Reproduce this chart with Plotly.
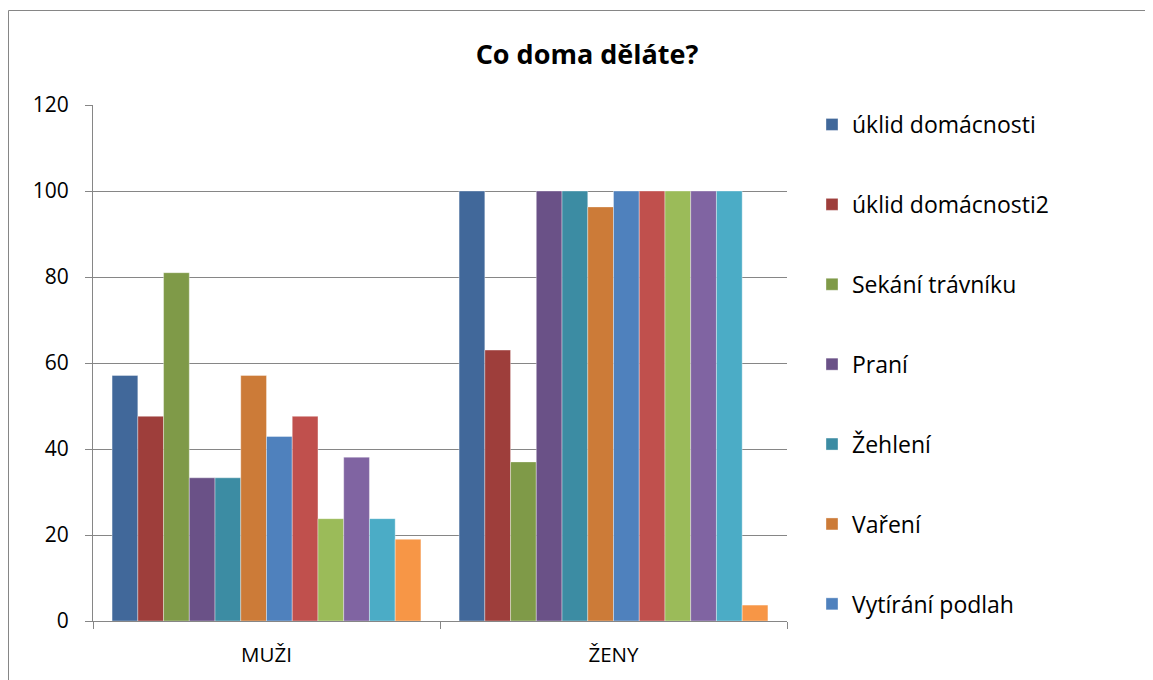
import plotly.graph_objects as go

categories = ["MUŽI", "ŽENY"]
series_names = [
    "úklid domácnosti", "úklid domácnosti2", "Sekání trávníku", "Praní",
    "Žehlení", "Vaření", "Vytírání podlah", "Série 8", "Série 9",
    "Série 10", "Série 11", "Série 12",
]
muzi = [57.1, 47.6, 81.0, 33.3, 33.3, 57.1, 42.9, 47.6, 23.8, 38.1, 23.8, 19.0]
zeny = [100, 63.0, 37.0, 100, 100, 96.3, 100, 100, 100, 100, 100, 3.7]
colors = ["#41689A", "#9E3E3B", "#7F9A48", "#6A5187", "#3C8CA3", "#CC7B38",
          "#4F81BD", "#C0504D", "#9BBB59", "#8064A2", "#4BACC6", "#F79646"]
legend_visible = 7
y_ticks = [0, 20, 40, 60, 80, 100, 120]

FONT = "Open Sans, Calibri, sans-serif"

fig = go.Figure()
for i, name in enumerate(series_names):
    fig.add_trace(go.Bar(
        x=categories, y=[muzi[i], zeny[i]], name=name,
        marker=dict(color=colors[i], line=dict(color="rgba(255,255,255,0.6)", width=0.6)),
        legendgroup=f"g{i}", showlegend=i < legend_visible,
    ))

OFF = 8  # page body margin
W, H = 1145, 672
L, T = 93 - OFF, 105 - OFF
R = W - (787 - OFF)
B = H - (621 - OFF)
pw, ph = W - L - R, H - T - B

def px_x(x):
    return (x - L) / pw

def px_y(y):
    return (H - B - y) / ph

fig.update_layout(
    width=W, height=H,
    margin=dict(l=L, r=R, t=T, b=B),
    paper_bgcolor="white", plot_bgcolor="white",
    barmode="group", bargap=0.11, bargroupgap=0,
    font=dict(family=FONT, size=19, color="#000000"),
    title=dict(text="<b>Co doma děláte?</b>", x=(587 - OFF) / W, xanchor="center",
               y=1 - (55 - OFF) / H, yanchor="middle",
               font=dict(family=FONT, size=27, color="#000000")),
    legend=dict(x=px_x(812 - OFF), xanchor="left", y=px_y(103 - OFF), yanchor="top",
                font=dict(family=FONT, size=23, color="#000000"),
                tracegroupgap=47, itemwidth=30, bgcolor="rgba(0,0,0,0)",
                maxheight=640),
    showlegend=True,
    shapes=[dict(type="rect", xref="paper", yref="paper",
                 x0=px_x(0.5), x1=px_x(W + 20), y0=px_y(H + 20), y1=px_y(2.5),
                 line=dict(color="#868686", width=1), fillcolor="rgba(0,0,0,0)",
                 layer="below")],
)
fig.update_yaxes(range=[0, 120], tickvals=y_ticks, showgrid=True,
                 gridcolor="#868686", gridwidth=1, showline=True,
                 linecolor="#868686", linewidth=1, ticks="outside",
                 ticklen=7, tickcolor="#868686", zeroline=False,
                 ticklabelstandoff=12,
                 tickfont=dict(family=FONT, size=21, color="#000000"))
fig.update_xaxes(showline=True, linecolor="#868686", linewidth=1,
                 ticks="outside", tickson="boundaries", ticklen=7,
                 tickcolor="#868686", showgrid=False, ticklabelstandoff=15,
                 tickfont=dict(family=FONT, size=20.5, color="#000000"))

fig.write_html("out.html")
